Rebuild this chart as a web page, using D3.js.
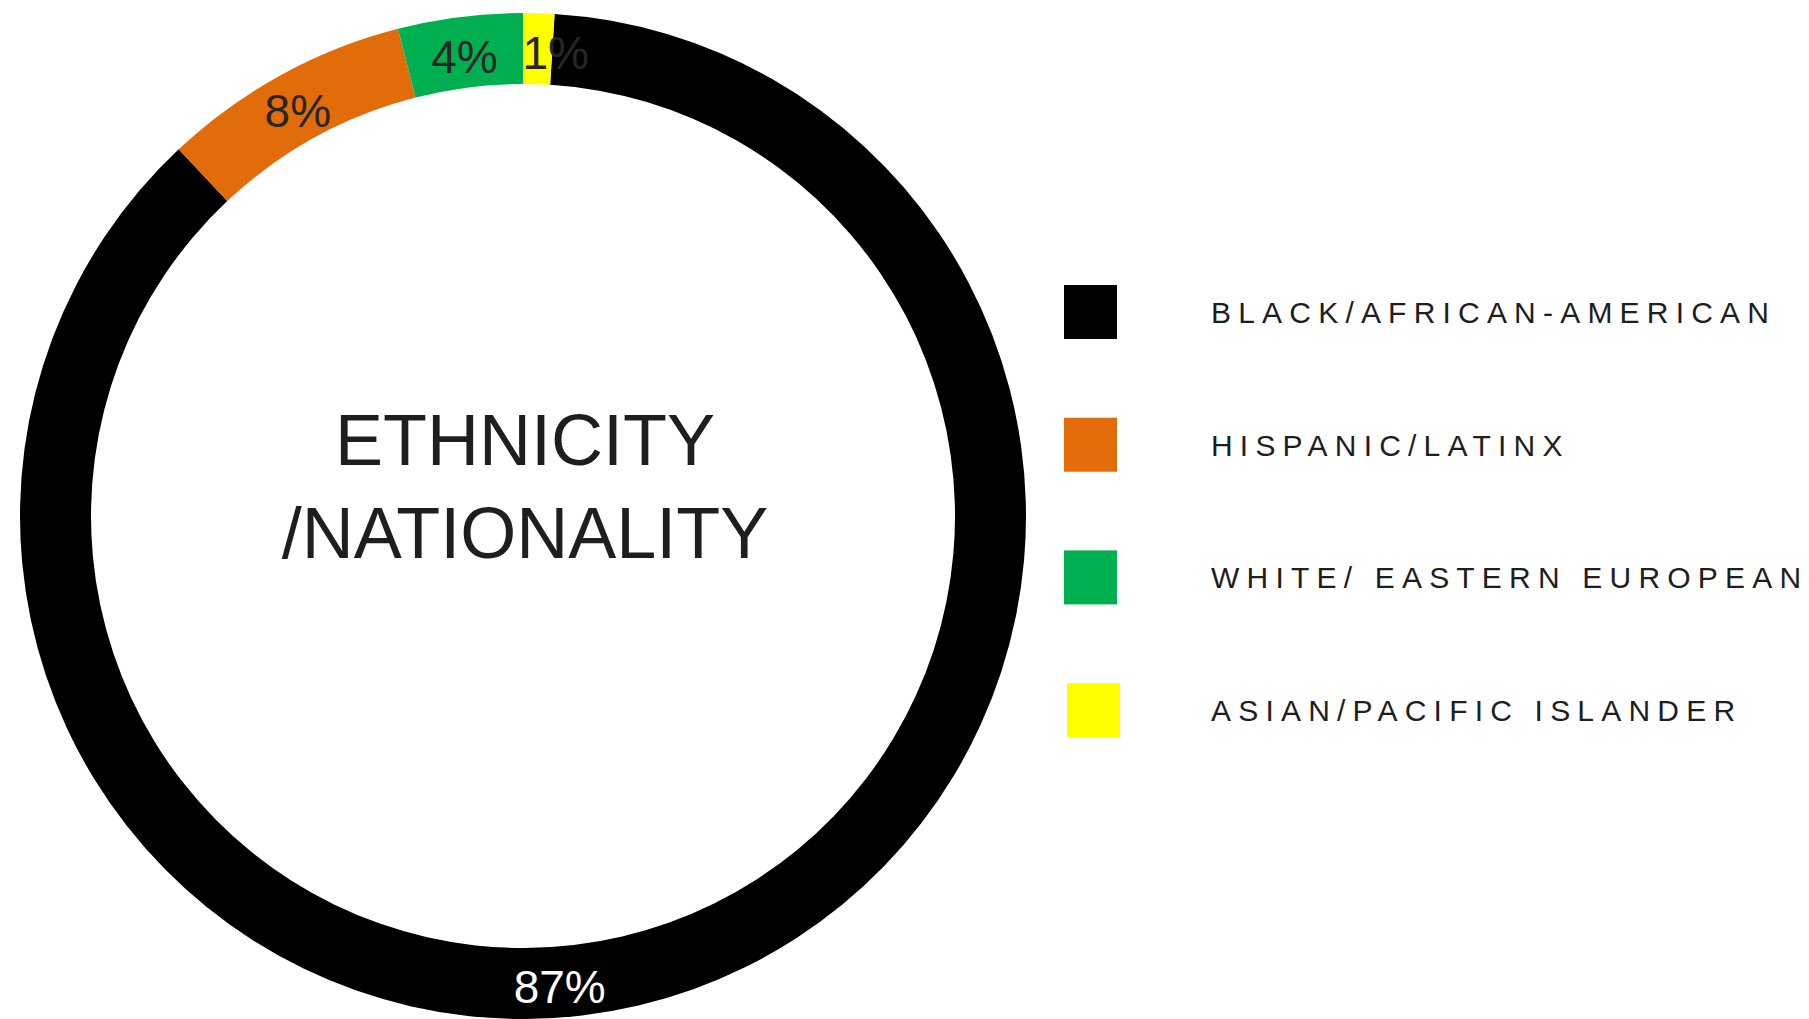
<!DOCTYPE html>
<html>
<head>
<meta charset="utf-8">
<script src="https://cdn.jsdelivr.net/npm/d3@7"></script>
<style>
  body { margin: 0; background: #ffffff; }
  text { font-family: "Liberation Sans", Arial, sans-serif; }
</style>
</head>
<body>
<div class="chart"></div>
<script>
// Data
var categories = ["BLACK/AFRICAN-AMERICAN", "HISPANIC/LATINX", "WHITE/ EASTERN EUROPEAN", "ASIAN/PACIFIC ISLANDER"];
var shares = [87, 8, 4, 1];
var colors = ["#000000", "#e36c0a", "#00b050", "#ffff00"];
var labelColors = ["#ffffff", "#262626", "#262626", "#262626"];
var titleLines = ["ETHNICITY", "/NATIONALITY"];

// Set up the canvas
var svgWidth = 1809;
var svgHeight = 1019;

var cx = 523;
var cy = 516;
var outerRadius = 503;
var innerRadius = 432;

var svg = d3
  .select(".chart")
  .append("svg")
  .attr("width", svgWidth)
  .attr("height", svgHeight);

svg.append("rect")
  .attr("width", svgWidth)
  .attr("height", svgHeight)
  .attr("fill", "#ffffff");

var chartGroup = svg.append("g")
  .attr("transform", `translate(${cx}, ${cy})`);

// Pie layout, keeps the data order; the ring is turned so the smallest slice sits just right of top
var offset = 2 * Math.PI * shares[shares.length - 1] / d3.sum(shares);
var pie = d3.pie()
  .sort(null)
  .startAngle(offset)
  .endAngle(2 * Math.PI + offset);

var arc = d3.arc()
  .innerRadius(innerRadius)
  .outerRadius(outerRadius);

var arcs = pie(shares.map(function(v, i) {
  return { name: categories[i], value: v, i: i };
}).map(d => d.value));

// Slices
chartGroup.selectAll("path")
  .data(arcs)
  .enter()
  .append("path")
  .attr("d", arc)
  .attr("fill", (d, i) => colors[i]);

// Slice labels, the big one was moved down to the bottom of the ring
chartGroup.append("g")
  .selectAll("text")
  .data(arcs)
  .enter()
  .append("text")
  .attr("transform", function(d, i) {
    var p;
    if (i === 0) {
      var a = Math.PI * 175.5 / 180;
      p = arc.centroid({ startAngle: a, endAngle: a });
    } else {
      p = arc.centroid(d);
    }
    var dx = (i === 3) ? 18 : 0;
    return `translate(${p[0] + dx}, ${p[1]})`;
  })
  .attr("dy", "0.45em")
  .attr("text-anchor", "middle")
  .attr("font-size", 46)
  .attr("fill", (d, i) => labelColors[i])
  .text(d => d.value + "%");

// Title in the middle of the ring
chartGroup.append("g")
  .selectAll("text")
  .data(titleLines)
  .enter()
  .append("text")
  .attr("x", 2)
  .attr("y", (d, i) => -51 + i * 93)
  .attr("text-anchor", "middle")
  .attr("font-size", 72)
  .attr("fill", "#1e1e1e")
  .text(d => d);

// Legend
var legend = svg.append("g")
  .attr("transform", "translate(1064, 285)");

var rowStep = 132.7;

var rows = legend.selectAll("g")
  .data(categories)
  .enter()
  .append("g")
  .attr("transform", (d, i) => `translate(${i === 3 ? 3 : 0}, ${i * rowStep})`);

rows.append("rect")
  .attr("width", 53)
  .attr("height", 54)
  .attr("fill", (d, i) => colors[i]);

rows.append("text")
  .attr("x", 147 - 0)
  .attr("y", 38)
  .attr("dx", (d, i) => i === 3 ? -3 : 0)
  .attr("font-size", 30)
  .attr("letter-spacing", "7.2px")
  .attr("fill", "#1e1e1e")
  .text(d => d);
</script>
</body>
</html>
